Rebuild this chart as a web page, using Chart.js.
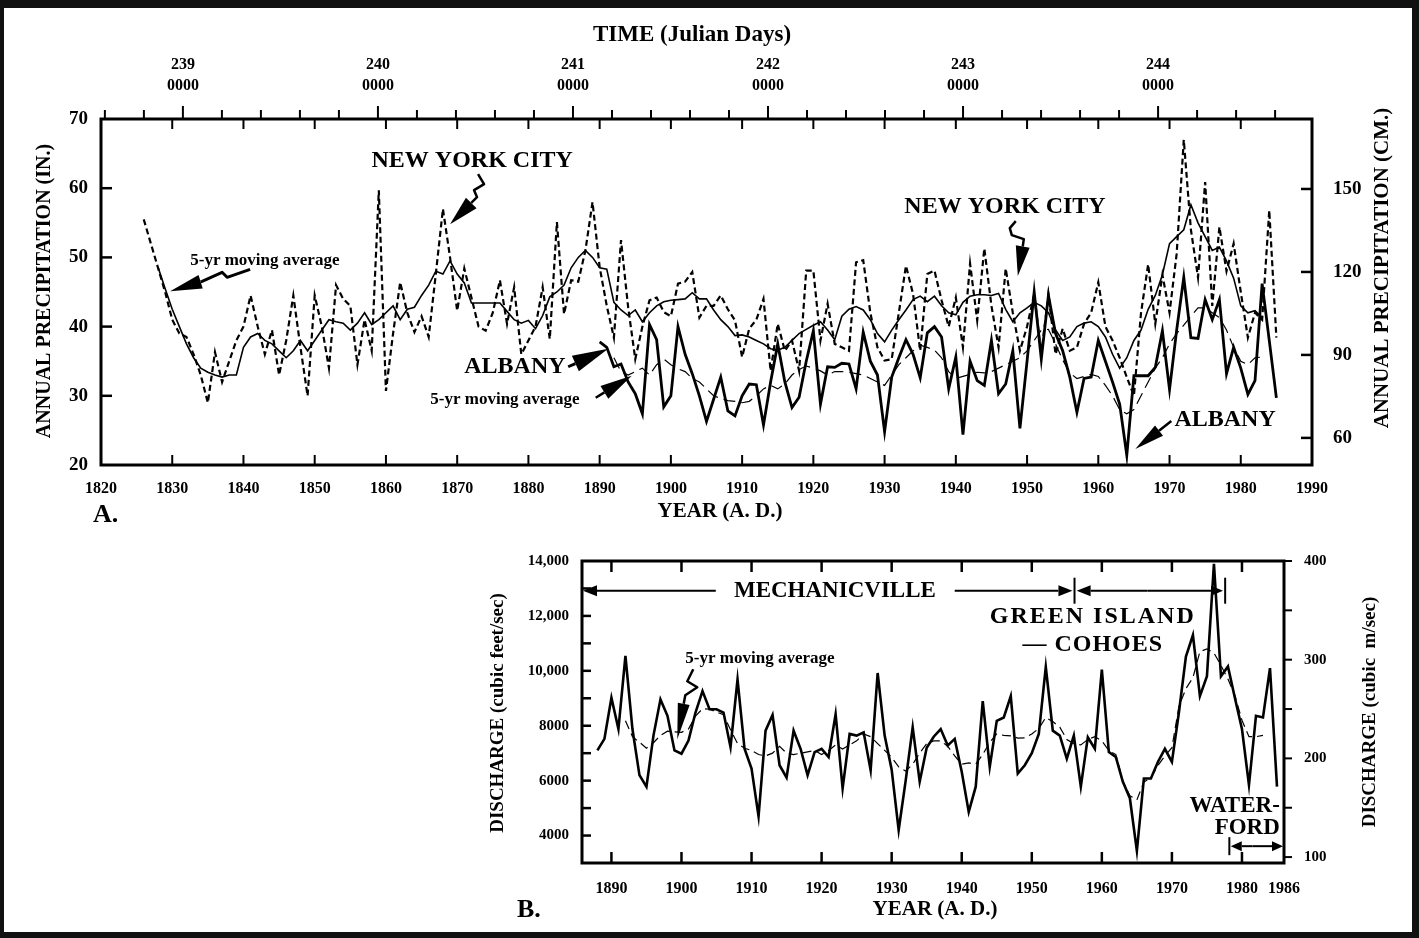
<!DOCTYPE html>
<html>
<head>
<meta charset="UTF-8">
<title>Annual precipitation and river discharge</title>
<script src="https://cdn.jsdelivr.net/npm/chart.js@4.4.1/dist/chart.umd.min.js"></script>
<style>
  body { margin: 0; background: #fff; }
  #page { position: relative; width: 1419px; height: 938px; overflow: hidden; background: #fff; }
  .box { position: absolute; left: 0; width: 1419px; }
  #frame { position: absolute; left: 0; top: 0; width: 1419px; height: 938px; box-sizing: border-box;
           border-style: solid; border-color: #111; border-width: 8px 7px 6px 4px; pointer-events: none; }
</style>
</head>
<body>
<div id="page">
  <div class="box" style="top:0;height:540px"><canvas id="chartA"></canvas></div>
  <div class="box" style="top:540px;height:398px"><canvas id="chartB"></canvas></div>
  <div id="frame"></div>
</div>
<script>
// ---------- A: annual precipitation (inches), one value per year ----------
const nycStart = 1826;
const nycAnnual = [
  55.5, 52, 48.5, 45, 41, 39, 38.5, 36, 33, 29,
  36.3, 32, 35, 38, 40, 44.5, 40, 36, 39.5, 33,
  38, 44.5, 37, 30, 44.5, 40, 34, 46, 44, 43,
  34.5, 41, 36.5, 59.7, 30.7, 39, 46.4, 42, 39.2, 41.5,
  38.5, 47.6, 57, 50, 42.3, 48.4, 44.2, 40, 39.4, 42,
  46.7, 40.4, 45.7, 36, 38, 40, 45.7, 38.2, 55.1, 41.8,
  46.7, 46.5, 51, 58, 48.6, 43, 38.4, 52.5, 42.8, 35.3,
  40, 43.8, 44.2, 42.1, 41.5, 46.2, 46.5, 47.9, 41.3, 43,
  43, 44.5, 42.5, 40.9, 35.6, 39.7, 41, 44, 33.6, 40.4,
  36.5, 38, 33.6, 48.1, 48.1, 38, 43.3, 37.5, 37, 36.5,
  49.3, 49.6, 42, 37, 35.1, 35.3, 42, 48.8, 44.7, 36.5,
  47.6, 48.1, 43.8, 40, 44.2, 37, 49.1, 40.9, 51.3, 43,
  37, 48.4, 42, 36.5, 40, 44.7, 36, 44.7, 36, 39.7,
  36.5, 37, 40.4, 42, 46.4, 40, 38, 35.5, 32.7, 30,
  42, 49, 40.4, 47.5, 42, 50.5, 67, 54, 47.1, 60.9,
  43, 54.4, 48, 52, 45, 38.4, 42, 41, 56.8, 38.4
];
const nycAvgStart = 1828;
const nycAvg5 = [
  48.6, 45.5, 42.5, 40, 37.5, 35.5, 34, 33.4, 33, 32.7,
  33, 33, 37, 38.5, 39, 38, 37.5, 36.5, 35.5, 36.5,
  38, 36.5, 38, 39.5, 41, 40.7, 40.5, 39.5, 40.5, 42,
  40.3, 41, 42, 43, 41, 42.5, 42.8, 44.5, 46, 48,
  47.6, 49.5, 47.6, 46.3, 43.4, 43.4, 43.4, 43.4, 43.4, 42.2,
  41, 40.5, 40.9, 39.7, 41.6, 44.3, 45, 46, 48.5, 50,
  51, 50, 48.5, 48.3, 43.5, 42.4, 41.6, 42.4, 40.7, 42,
  43, 43.6, 43.8, 43.9, 44, 44.9, 44, 44, 42.4, 41,
  40, 38.7, 38.8, 38.5, 38, 37.5, 36.8, 36.6, 37, 38,
  39, 39.6, 40.2, 40.7, 39.5, 38.1, 41.5, 42.5, 42.9, 42.4,
  41, 39, 37.8, 39.5, 41, 42.4, 43.9, 44.4, 43.6, 44.4,
  43, 42, 41.7, 43.5, 44.4, 44.6, 44.6, 44.5, 44.8, 42.5,
  40.7, 42, 42.7, 43.5, 43, 42, 39.5, 38, 38.5, 40,
  40.5, 40.7, 40, 38.5, 36, 34, 35.5, 38, 39.5, 42.5,
  44.5, 47.5, 52, 53, 54, 57.6, 55, 53, 51, 51.5,
  49.5, 47, 43, 42, 42.3, 41.3
];
const albanyStart = 1890;
const albanyAnnual = [
  37.8, 37, 34.2, 34.6, 32, 30.3, 27.4, 40.3, 38.1, 28.4,
  30, 40, 36, 33.2, 30, 26.3, 29.5, 32.7, 27.8, 27.1,
  30, 31.7, 31.6, 25.8, 32, 37.5, 32, 28.3, 29.8, 35,
  39.4, 28.8, 34.2, 34.1, 34.7, 34.6, 31, 39.2, 35, 33,
  24.8, 32.7, 35.5, 38.1, 36, 32.6, 39.1, 40, 38.5, 31,
  35.6, 24.4, 35, 32.2, 31.5, 38, 30.3, 31.7, 36.5, 25.3,
  35, 45, 35.3, 44.5, 39, 36.5, 32.7, 27.6, 32.5, 32.7,
  38, 35, 32, 28.8, 21.4, 32.9, 32.9, 32.9, 34.1, 39.4,
  30.9, 39.5, 47.1, 38.4, 38.3, 43.9, 41, 43.9, 33.2, 37,
  34, 30.2, 32.2, 46.2, 38, 29.7
];
const albanyAvgStart = 1892;
const albanyAvg5 = [
  35.5, 33.5, 33, 33.5, 34, 33, 34.5, 35.3, 34.5, 33.9,
  33.5, 32.5, 32, 31, 30, 29.6, 29.3, 29.2, 29, 29.2,
  30, 31, 31.5, 31, 31.7, 33, 33.8, 34.3, 34, 33.6,
  33, 33.5, 33.5, 33.4, 33.2, 33, 32.5, 32, 31.5, 33,
  34.5, 35.5, 36.5, 37.3, 37, 36.6, 35.5, 33.5, 32.5, 32.8,
  33.1, 33.4, 33.3, 33.5, 34, 34.5, 35, 35.5, 36.5, 38,
  39.5, 39.6, 37.5, 35.2, 33.3, 32.5, 32.8, 33.1, 32.8, 31.5,
  30, 28, 27.4, 28, 30, 32, 34, 35.5, 37.5, 39,
  40.2, 41.5, 42.7, 42.7, 42, 41.3, 39.5, 37, 35, 34.5,
  35.5, 35.6
];
const julianDays = [2390000, 2400000, 2410000, 2420000, 2430000, 2440000];
const julianHigh = ['239', '240', '241', '242', '243', '244'];
const julianLow = ['0000', '0000', '0000', '0000', '0000', '0000'];
const cmTicks = [60, 90, 120, 150];

// ---------- B: Hudson discharge (cubic feet/sec) ----------
const flowStart = 1888;
const flowAnnual = [
  7100, 7520, 9020, 7880, 10540, 7880, 6200, 5780, 7640, 8960,
  8360, 7100, 6980, 7460, 8480, 9260, 8600, 8600, 8480, 7220,
  9680, 7160, 6440, 4700, 7820, 8390, 6560, 6110, 7820, 7160,
  6200, 7040, 7160, 6860, 8420, 5720, 7700, 7640, 7760, 6380,
  9920, 7640, 6400, 4200, 6000, 7940, 5960, 7200, 7600, 7880,
  7280, 7520, 6320, 4860, 5780, 8900, 6500, 8180, 8300, 9080,
  6260, 6560, 7000, 7700, 10140, 7820, 7640, 6800, 7640, 5780,
  7580, 7160, 10040, 7040, 6860, 5960, 5360, 3440, 6080, 6080,
  6680, 7160, 6680, 8480, 10520, 11300, 9080, 9800, 13900, 9800,
  10160, 9000, 7880, 5840, 8360, 8300, 10100, 5780
];
const flowAvgStart = 1892;
const flowAvg5 = [
  8180, 7600, 7400, 7180, 7380, 7650, 7800, 7780, 7760, 7880,
  8350, 8620, 8600, 8500, 8400, 7850, 7350, 7180, 7100, 6950,
  6900, 7000, 7250, 7000, 6950, 7000, 7050, 7100, 6950, 7100,
  7300, 7150, 7300, 7450, 7700, 7600, 7350, 7100, 6850, 6500,
  6350, 6600, 7000, 7350, 7450, 7450, 7250, 6900, 6600, 6650,
  6600, 6950, 7400, 7700, 7650, 7630, 7550, 7560, 7700, 7900,
  8300, 8150, 7950, 7500, 7350, 7300, 7500, 7600, 7450, 7100,
  6950, 5980, 5450, 5300, 5950, 6100, 6550, 6900, 7200, 8700,
  9350, 9750, 10700, 10800, 10650, 10200, 9700, 9100, 8200, 7600,
  7600, 7650
];
const yearTicksB = [1890, 1900, 1910, 1920, 1930, 1940, 1950, 1960, 1970, 1980, 1986];
const cfsTicks = [4000, 6000, 8000, 10000, 12000, 14000];
const cfsLabels = ['4000', '6000', '8000', '10,000', '12,000', '14,000'];
const cmsTicks = [100, 200, 300, 400];

// ---------- helpers ----------
const SERIF = "'Liberation Serif', 'Times New Roman', serif";
const toPts = (start, vals) => vals.map((v, i) => ({ x: start + i, y: v }));
const jdToYear = jd => 2000 + (jd - 2451544.5) / 365.2425;
const tickFont = size => ({ family: SERIF, weight: 'bold', size: size });

function text(ctx, s, x, y, size, opt) {
  opt = opt || {};
  ctx.save();
  ctx.font = 'bold ' + size + 'px ' + SERIF;
  ctx.fillStyle = '#000';
  ctx.textAlign = opt.align || 'center';
  ctx.textBaseline = 'middle';
  if (opt.spacing) ctx.letterSpacing = opt.spacing;
  ctx.translate(x, y);
  if (opt.rot) ctx.rotate(opt.rot);
  if (opt.w) ctx.fillText(s, 0, 0, opt.w); else ctx.fillText(s, 0, 0);
  ctx.restore();
}

// pts: list of [x, y]; last point is the tip
function arrow(ctx, pts, headLen, headW, lw) {
  ctx.save();
  ctx.strokeStyle = '#000'; ctx.fillStyle = '#000'; ctx.lineWidth = lw;
  ctx.lineJoin = 'round';
  const n = pts.length;
  const tx = pts[n - 1][0], ty = pts[n - 1][1];
  const a = Math.atan2(ty - pts[n - 2][1], tx - pts[n - 2][0]);
  const bx = tx - headLen * Math.cos(a), by = ty - headLen * Math.sin(a);
  ctx.beginPath();
  ctx.moveTo(pts[0][0], pts[0][1]);
  for (let i = 1; i < n - 1; i++) ctx.lineTo(pts[i][0], pts[i][1]);
  ctx.lineTo(bx, by);
  ctx.stroke();
  ctx.beginPath();
  ctx.moveTo(tx, ty);
  ctx.lineTo(bx + headW / 2 * Math.sin(a), by - headW / 2 * Math.cos(a));
  ctx.lineTo(bx - headW / 2 * Math.sin(a), by + headW / 2 * Math.cos(a));
  ctx.closePath();
  ctx.fill();
  ctx.restore();
}

function line(ctx, x1, y1, x2, y2, lw) {
  ctx.beginPath(); ctx.lineWidth = lw || 2; ctx.moveTo(x1, y1); ctx.lineTo(x2, y2); ctx.stroke();
}

const noGrid = { display: false };
const noBorder = { display: false };

// ---------- chart A decorations ----------
const decorA = {
  id: 'decorA',
  afterDraw(chart) {
    const ctx = chart.ctx, a = chart.chartArea;
    const X = v => chart.scales.x.getPixelForValue(v);
    const Y = v => chart.scales.y.getPixelForValue(v);
    const Ycm = v => chart.scales.yCm.getPixelForValue(v);
    ctx.save();
    ctx.strokeStyle = '#000';
    ctx.lineWidth = 3;
    ctx.strokeRect(a.left, a.top, a.right - a.left, a.bottom - a.top);
    // inward decade ticks top and bottom
    for (let yr = 1830; yr <= 1980; yr += 10) {
      line(ctx, X(yr), a.bottom, X(yr), a.bottom - 10, 2);
      line(ctx, X(yr), a.top, X(yr), a.top + 10, 2);
    }
    for (let v = 30; v <= 60; v += 10) line(ctx, a.left, Y(v), a.left + 11, Y(v), 2.5);
    cmTicks.forEach(v => line(ctx, a.right, Ycm(v), a.right - 11, Ycm(v), 2.5));
    // outward julian day ticks on top
    for (let jd = 2386000; jd <= 2448000; jd += 2000) {
      const yr = jdToYear(jd);
      if (yr < 1820 || yr > 1990) continue;
      const len = jd % 10000 === 0 ? 13 : 9;
      line(ctx, X(yr), a.top, X(yr), a.top - len, 2);
    }
    // titles
    text(ctx, 'TIME (Julian Days)', 692, 35, 23, { w: 222 });
    text(ctx, 'YEAR (A. D.)', 720, 512, 21, { w: 146 });
    text(ctx, 'A.', 93, 515, 26, { align: 'left' });
    text(ctx, 'ANNUAL PRECIPITATION (IN.)', 45, 291, 20, { rot: -Math.PI / 2, w: 352 });
    text(ctx, 'ANNUAL PRECIPITATION (CM.)', 1383, 268, 21, { rot: -Math.PI / 2, w: 392 });
    // series labels
    text(ctx, 'NEW YORK CITY', X(1872.1), Y(63.9), 24, { w: 210 });
    let tx = X(1869.0), ty = Y(54.8);
    arrow(ctx, [[tx + 28, ty - 50], [tx + 34, ty - 40], [tx + 24, ty - 34], [tx + 27, ty - 27], [tx, ty]], 30, 15, 2.5);
    text(ctx, 'NEW YORK CITY', X(1946.9), Y(57.3), 24, { w: 210 });
    tx = X(1948.7); ty = Y(47.3);
    arrow(ctx, [[tx - 2, ty - 55], [tx - 8, ty - 48], [tx - 6, ty - 41], [tx + 6, ty - 37], [tx + 5, ty - 30], [tx, ty]], 30, 14, 2.5);
    text(ctx, '5-yr moving average', X(1843.0), Y(49.6), 17, { w: 172 });
    tx = X(1829.7); ty = Y(45.1);
    arrow(ctx, [[tx + 80, ty - 22], [tx + 57, ty - 14], [tx + 52, ty - 19], [tx + 32, ty - 10], [tx, ty]], 32, 14, 3);
    text(ctx, 'ALBANY', X(1878.1), Y(34.2), 24, { w: 104 });
    tx = X(1891.2); ty = Y(36.8);
    arrow(ctx, [[tx - 40, ty + 18], [tx, ty]], 36, 17, 3);
    text(ctx, '5-yr moving average', X(1876.7), Y(29.5), 17, { w: 174 });
    tx = X(1894.5); ty = Y(32.9);
    arrow(ctx, [[tx - 36, ty + 22], [tx, ty]], 32, 15, 2.5);
    text(ctx, 'ALBANY', X(1977.8), Y(26.5), 24, { w: 104 });
    tx = X(1965.2); ty = Y(22.3);
    arrow(ctx, [[tx + 36, ty - 28], [tx, ty]], 30, 13, 2.5);
    ctx.restore();
  }
};

// ---------- chart B decorations ----------
const decorB = {
  id: 'decorB',
  afterDraw(chart) {
    const ctx = chart.ctx, a = chart.chartArea;
    const X = v => chart.scales.x.getPixelForValue(v);
    const Y = v => chart.scales.y.getPixelForValue(v);
    const Ym = v => chart.scales.yM.getPixelForValue(v);
    const off = 540; // page offset of this canvas
    ctx.save();
    ctx.strokeStyle = '#000';
    ctx.lineWidth = 3;
    ctx.strokeRect(a.left, a.top, a.right - a.left, a.bottom - a.top);
    for (let yr = 1890; yr <= 1980; yr += 10) {
      line(ctx, X(yr), a.bottom, X(yr), a.bottom - 11, 2.5);
      line(ctx, X(yr), a.top, X(yr), a.top + 11, 2.5);
    }
    for (let v = 4000; v <= 13000; v += 1000) line(ctx, a.left, Y(v), a.left + 9, Y(v), 2.5);
    for (let v = 100; v <= 400; v += 50) line(ctx, a.right, Ym(v), a.right + 8, Ym(v), 2);
    // page texts
    text(ctx, 'B.', 517, 910 - off, 26, { align: 'left' });
    text(ctx, 'YEAR (A. D.)', 935, 910 - off, 21, { w: 146 });
    text(ctx, 'DISCHARGE (cubic feet/sec)', 498, 713 - off, 19, { rot: -Math.PI / 2, w: 308 });
    text(ctx, 'DISCHARGE (cubic  m/sec)', 1370, 712 - off, 19, { rot: -Math.PI / 2, w: 296 });
    // gauging station spans
    const yS = Y(12918);
    text(ctx, 'MECHANICVILLE', X(1921.9), yS, 23, { w: 218 });
    arrow(ctx, [[X(1904.9), yS], [a.left + 1, yS]], 14, 11, 2);
    arrow(ctx, [[X(1939.0), yS], [X(1955.8), yS]], 14, 11, 2);
    line(ctx, X(1956.1), yS - 13, X(1956.1), yS + 13, 2);
    arrow(ctx, [[X(1966.5), yS], [X(1956.4), yS]], 14, 11, 2);
    arrow(ctx, [[X(1966.5), yS], [X(1977.3), yS]], 12, 10, 2);
    line(ctx, X(1977.6), yS - 13, X(1977.6), yS + 13, 2);
    text(ctx, 'GREEN ISLAND', X(1958.7), Y(11980), 24, { spacing: '2px', w: 210 });
    text(ctx, '\u2014 COHOES', X(1958.7), Y(10934), 24, { spacing: '1px', w: 145 });
    text(ctx, '5-yr moving average', X(1911.2), Y(10430), 17, { w: 173 });
    let tx = X(1899.4), ty = Y(7508);
    arrow(ctx, [[tx + 16, ty - 70], [tx + 10, ty - 58], [tx + 20, ty - 52], [tx + 8, ty - 44], [tx, ty]], 36, 12, 2.5);
    text(ctx, 'WATER-', X(1985.4), Y(5092), 23, { align: 'right', w: 110 });
    text(ctx, 'FORD', X(1985.4), Y(4262), 23, { align: 'right', w: 72 });
    const yW = Y(3613);
    line(ctx, X(1978.2), yW - 9, X(1978.2), yW + 9, 2);
    arrow(ctx, [[X(1981.5), yW], [X(1978.4), yW]], 11, 10, 2);
    arrow(ctx, [[X(1981.5), yW], [a.right - 1, yW]], 11, 10, 2);
    ctx.restore();
  }
};

// ---------- chart A ----------
new Chart(document.getElementById('chartA'), {
  type: 'line',
  data: {
    datasets: [
      { label: 'New York City', data: toPts(nycStart, nycAnnual), borderColor: '#000', borderWidth: 2.2,
        borderDash: [6, 3.5], pointRadius: 0, tension: 0 },
      { label: 'New York City 5-yr moving average', data: toPts(nycAvgStart, nycAvg5), borderColor: '#000',
        borderWidth: 1.6, pointRadius: 0, tension: 0 },
      { label: 'Albany', data: toPts(albanyStart, albanyAnnual), borderColor: '#000', borderWidth: 2.8,
        pointRadius: 0, tension: 0 },
      { label: 'Albany 5-yr moving average', data: toPts(albanyAvgStart, albanyAvg5), borderColor: '#000',
        borderWidth: 1.2, borderDash: [12, 6], pointRadius: 0, tension: 0 }
    ]
  },
  options: {
    responsive: true, maintainAspectRatio: false, animation: false,
    layout: { padding: 0 },
    plugins: { legend: { display: false }, tooltip: { enabled: false } },
    scales: {
      x: {
        type: 'linear', position: 'bottom', min: 1820, max: 1990,
        grid: noGrid, border: noBorder,
        ticks: { stepSize: 10, autoSkip: false, maxRotation: 0, padding: 6, color: '#000', font: tickFont(16),
                 callback: v => String(v) },
        afterFit(s) { s.height = 75; }
      },
      xTop: {
        type: 'linear', position: 'top', min: 1820, max: 1990,
        grid: noGrid, border: noBorder,
        afterBuildTicks(s) { s.ticks = julianDays.map(jd => ({ value: jdToYear(jd) })); },
        ticks: { autoSkip: false, maxRotation: 0, padding: 15, color: '#000',
                 font: { family: SERIF, weight: 'bold', size: 16, lineHeight: 1.3 },
                 callback: (v, i) => [julianHigh[i], julianLow[i]] },
        afterFit(s) { s.height = 119; }
      },
      y: {
        position: 'left', min: 20, max: 70,
        grid: noGrid, border: noBorder,
        ticks: { stepSize: 10, padding: 5, color: '#000', font: tickFont(19) },
        afterFit(s) { s.width = 101; }
      },
      yCm: {
        position: 'right', min: 50.2, max: 175.3,
        grid: noGrid, border: noBorder,
        afterBuildTicks(s) { s.ticks = cmTicks.map(v => ({ value: v })); },
        ticks: { padding: 13, color: '#000', font: tickFont(19) },
        afterFit(s) { s.width = 107; }
      }
    }
  },
  plugins: [decorA]
});

// ---------- chart B ----------
new Chart(document.getElementById('chartB'), {
  type: 'line',
  data: {
    datasets: [
      { label: 'Discharge', data: toPts(flowStart, flowAnnual), borderColor: '#000', borderWidth: 2.6,
        pointRadius: 0, tension: 0 },
      { label: '5-yr moving average', data: toPts(flowAvgStart, flowAvg5), borderColor: '#000',
        borderWidth: 1.2, borderDash: [9, 5], pointRadius: 0, tension: 0 }
    ]
  },
  options: {
    responsive: true, maintainAspectRatio: false, animation: false,
    layout: { padding: { top: 18 } },
    plugins: { legend: { display: false }, tooltip: { enabled: false } },
    scales: {
      x: {
        type: 'linear', position: 'bottom', min: 1885.8, max: 1986,
        grid: noGrid, border: noBorder,
        afterBuildTicks(s) { s.ticks = yearTicksB.map(v => ({ value: v })); },
        ticks: { autoSkip: false, maxRotation: 0, padding: 8, color: '#000', font: tickFont(16),
                 callback: v => String(v) },
        afterFit(s) { s.height = 75; }
      },
      y: {
        position: 'left', min: 3000, max: 14000,
        grid: noGrid, border: noBorder,
        afterBuildTicks(s) { s.ticks = cfsTicks.map(v => ({ value: v })); },
        ticks: { padding: 5, color: '#000', font: tickFont(15), callback: (v, i) => cfsLabels[i] },
        afterFit(s) { s.width = 582; }
      },
      yM: {
        position: 'right', min: 94, max: 400,
        grid: noGrid, border: noBorder,
        afterBuildTicks(s) { s.ticks = cmsTicks.map(v => ({ value: v })); },
        ticks: { padding: 12, color: '#000', font: tickFont(15) },
        afterFit(s) { s.width = 135; }
      }
    }
  },
  plugins: [decorB]
});
</script>
</body>
</html>
